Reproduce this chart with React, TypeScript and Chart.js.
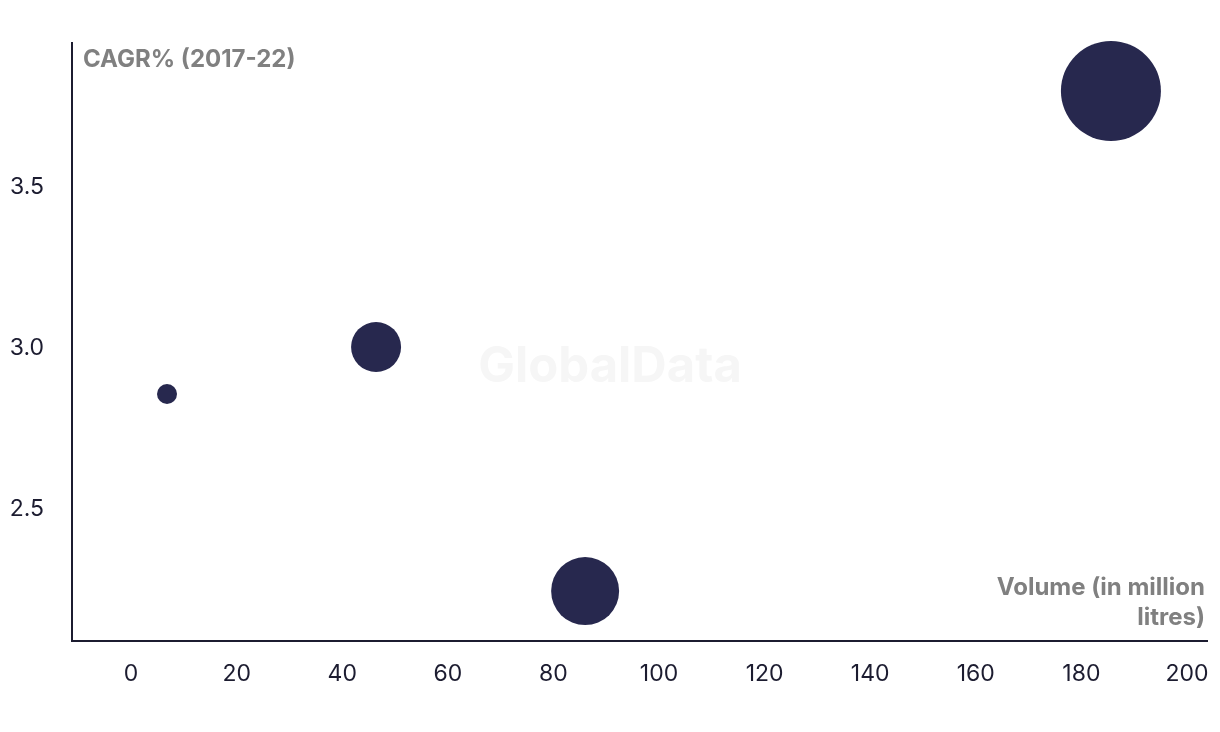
import React, { useEffect, useRef } from "react";
import { Chart, registerables } from "chart.js";

Chart.register(...registerables);

const volumes = [6.8, 46.4, 86, 185.6];
const cagr = [2.857, 3.003, 2.245, 3.798];
const bubbleRadius = [10, 25, 34, 50];
const xTicks = [0, 20, 40, 60, 80, 100, 120, 140, 160, 180, 200];
const yTicks = [2.5, 3.0, 3.5];
const yTitle = "CAGR% (2017-22)";
const xTitleLines = ["Volume (in million", "litres)"];
const watermark = "GlobalData";

const FONT = "Inter, 'Liberation Sans', Arial, sans-serif";

const overlayPlugin = {
  id: "overlay",
  beforeDatasetsDraw(chart: any) {
    const { ctx } = chart;
    ctx.save();
    ctx.font = `bold 49px ${FONT}`;
    ctx.fillStyle = "#f6f6f6";
    ctx.textAlign = "center";
    ctx.textBaseline = "middle";
    ctx.fillText(watermark, 610, 367);
    ctx.restore();
  },
  afterDraw(chart: any) {
    const { ctx, chartArea } = chart;
    ctx.save();
    ctx.font = `bold 24px ${FONT}`;
    ctx.fillStyle = "#808080";
    ctx.textBaseline = "alphabetic";
    ctx.textAlign = "left";
    ctx.fillText(yTitle, chartArea.left + 11, chartArea.top + 24);
    ctx.textAlign = "right";
    ctx.fillText(xTitleLines[0], chartArea.right - 2, chartArea.bottom - 46);
    ctx.fillText(xTitleLines[1], chartArea.right - 2, chartArea.bottom - 16);
    ctx.restore();
  },
};

export default function App() {
  const ref = useRef<HTMLCanvasElement>(null);
  useEffect(() => {
    if (!ref.current) return;
    const chart = new Chart(ref.current, {
      type: "bubble",
      data: {
        datasets: [
          {
            data: volumes.map((v, i) => ({ x: v, y: cagr[i], r: bubbleRadius[i] })),
            backgroundColor: "#27284e",
            borderColor: "#27284e",
            borderWidth: 0,
            clip: false as any,
          },
        ],
      },
      options: {
        animation: false,
        responsive: true,
        maintainAspectRatio: false,
        layout: { autoPadding: false, padding: { top: 43, right: 13, left: 0, bottom: 0 } },
        plugins: { legend: { display: false }, tooltip: { enabled: false } },
        scales: {
          x: {
            type: "linear",
            min: -11.2,
            max: 203.8,
            afterBuildTicks: (s: any) => {
              s.ticks = xTicks.map((v) => ({ value: v }));
            },
            afterFit: (s: any) => {
              s.height = 91;
              s.paddingLeft = 0;
              s.paddingRight = 0;
            },
            grid: { display: true, color: "rgba(0,0,0,0)", drawTicks: false },
            border: { display: true, color: "#1c1c30", width: 2 },
            ticks: {
              color: "#1c1c30",
              font: { family: FONT, size: 23 },
              padding: 19,
              maxRotation: 0,
              callback: (v: any) => String(v),
            },
          },
          y: {
            type: "linear",
            min: 2.09,
            max: 3.947,
            afterBuildTicks: (s: any) => {
              s.ticks = yTicks.map((v) => ({ value: v }));
            },
            afterFit: (s: any) => {
              s.width = 72;
              s.paddingTop = 0;
              s.paddingBottom = 0;
            },
            grid: { display: true, color: "rgba(0,0,0,0)", drawTicks: false },
            border: { display: true, color: "#1c1c30", width: 2 },
            ticks: {
              color: "#1c1c30",
              font: { family: FONT, size: 23 },
              padding: 28,
              callback: (v: any) => Number(v).toFixed(1),
            },
          },
        },
      },
      plugins: [overlayPlugin],
    });
    return () => chart.destroy();
  }, []);
  return (
    <div style={{ position: "fixed", left: 0, top: 0, width: 1220, height: 732, background: "#fff" }}>
      <canvas ref={ref} />
    </div>
  );
}
